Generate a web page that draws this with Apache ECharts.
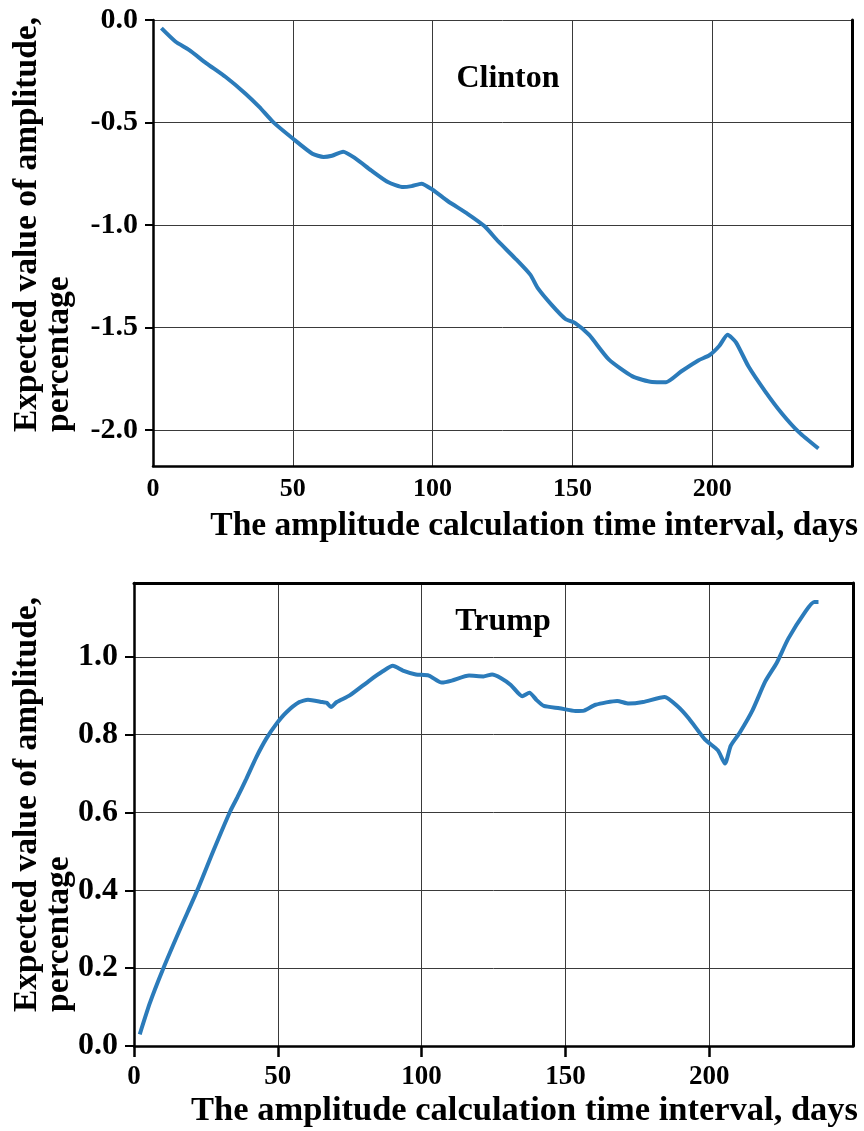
<!DOCTYPE html>
<html>
<head>
<meta charset="utf-8">
<script src="https://cdn.jsdelivr.net/npm/echarts@6/dist/echarts.min.js"></script>
<style>
html,body{margin:0;padding:0;background:#fff;}
#chart{width:864px;height:1131px;}
</style>
</head>
<body>
<div id="chart"></div>
<script>
// ---- data ----
const clintonDays = [3, 8, 13, 19, 26, 33, 38, 43, 50, 57, 61, 64, 68, 72.5, 78, 84, 89.5, 92.5, 96, 100, 105.5, 112.5, 118.5, 123.5, 129.5, 135, 137.5, 142.5, 147.5, 151, 156, 163, 171.5, 178.5, 183.5, 189, 195, 199, 202.5, 205.5, 208.5, 213, 219, 225, 231, 238];
const clintonValues = [-0.04, -0.105, -0.147, -0.21, -0.278, -0.358, -0.424, -0.498, -0.578, -0.652, -0.668, -0.662, -0.642, -0.676, -0.733, -0.79, -0.815, -0.81, -0.798, -0.828, -0.884, -0.945, -1.005, -1.08, -1.162, -1.243, -1.305, -1.388, -1.458, -1.478, -1.536, -1.655, -1.738, -1.765, -1.766, -1.713, -1.66, -1.635, -1.59, -1.535, -1.572, -1.69, -1.812, -1.92, -2.01, -2.09];

const trumpDays = [2, 5.5, 10, 16, 22, 27.5, 33.5, 36, 39, 42.5, 46, 49.5, 53, 57.5, 60.5, 65.5, 67, 68.5, 70.5, 75, 82, 86.5, 90, 93.5, 98, 102.5, 107, 110.5, 116.5, 121.5, 124.5, 127.5, 131, 135, 137.5, 140, 142.5, 148, 153.5, 156.5, 160.5, 168, 172, 177, 184.5, 189, 193, 198.5, 203, 205.5, 207.5, 210.5, 215, 219.5, 223.5, 227.5, 233.5, 236.5, 238];
const trumpValues = [0.03, 0.11, 0.196, 0.3, 0.4, 0.5, 0.604, 0.64, 0.686, 0.742, 0.79, 0.828, 0.858, 0.884, 0.89, 0.884, 0.882, 0.871, 0.884, 0.901, 0.94, 0.963, 0.977, 0.965, 0.955, 0.952, 0.934, 0.939, 0.952, 0.95, 0.955, 0.946, 0.928, 0.899, 0.908, 0.889, 0.874, 0.868, 0.861, 0.862, 0.877, 0.887, 0.88, 0.884, 0.897, 0.873, 0.841, 0.788, 0.76, 0.726, 0.772, 0.804, 0.862, 0.937, 0.985, 1.047, 1.117, 1.141, 1.141];

const xTickValues = [0, 50, 100, 150, 200];
const clintonYTicks = [-2.0, -1.5, -1.0, -0.5, 0.0];
const trumpYTicks = [0.0, 0.2, 0.4, 0.6, 0.8, 1.0];

const panelLabels = ['Clinton', 'Trump'];
const xAxisTitle = 'The amplitude calculation time interval, days';
const yAxisTitle = 'Expected value of amplitude,\npercentage';

// ---- chart ----
const FONT = 'Liberation Serif';
const lineColor = '#2b7bba';
const gridLine = { show: true, lineStyle: { color: '#3a3a3a', width: 1 } };
const blackAxis = { show: true, onZero: false, lineStyle: { color: '#000', width: 2.5 } };
const borderAxis = { show: true, onZero: false, lineStyle: { color: '#000', width: 3 } };

function toPairs(xs, ys) { return xs.map((x, i) => [x, ys[i]]); }

const chart = echarts.init(document.getElementById('chart'), null, { renderer: 'canvas' });

const option = {
  backgroundColor: '#fff',
  animation: false,
  grid: [
    { left: 153, top: 20, width: 699, height: 446 },
    { left: 134, top: 583, width: 719, height: 463 }
  ],
  xAxis: [
    {
      type: 'value', gridIndex: 0, min: 0, max: 250, interval: 50,
      axisLine: blackAxis,
      axisTick: { show: false },
      axisLabel: {
        customValues: xTickValues, margin: 10,
        fontFamily: FONT, fontWeight: 'bold', fontSize: 26, color: '#000'
      },
      splitLine: gridLine
    },
    {
      type: 'value', gridIndex: 1, min: 0, max: 250, interval: 50,
      axisLine: blackAxis,
      axisTick: { show: true, customValues: xTickValues, length: 11, lineStyle: { color: '#000', width: 2.5 } },
      axisLabel: {
        customValues: xTickValues, margin: 18,
        fontFamily: FONT, fontWeight: 'bold', fontSize: 27, color: '#000'
      },
      splitLine: gridLine
    },
    {
      type: 'value', gridIndex: 1, position: 'top', min: 0, max: 250,
      axisLine: borderAxis,
      axisTick: { show: false }, axisLabel: { show: false }, splitLine: { show: false }
    }
  ],
  yAxis: [
    {
      type: 'value', gridIndex: 0, min: -2.175, max: 0,
      axisLine: blackAxis,
      axisTick: { show: true, customValues: clintonYTicks, length: 8, lineStyle: { color: '#000', width: 2 } },
      axisLabel: {
        customValues: clintonYTicks, margin: 15,
        formatter: v => v.toFixed(1),
        fontFamily: FONT, fontWeight: 'bold', fontSize: 30, color: '#000'
      },
      splitLine: gridLine
    },
    {
      type: 'value', gridIndex: 0, position: 'right', min: -2.175, max: 0,
      axisLine: borderAxis,
      axisTick: { show: false }, axisLabel: { show: false }, splitLine: { show: false }
    },
    {
      type: 'value', gridIndex: 1, min: 0, max: 1.19,
      axisLine: blackAxis,
      axisTick: { show: true, customValues: trumpYTicks, length: 9, lineStyle: { color: '#000', width: 2 } },
      axisLabel: {
        customValues: trumpYTicks, margin: 16,
        formatter: v => v.toFixed(1),
        fontFamily: FONT, fontWeight: 'bold', fontSize: 32, color: '#000'
      },
      splitLine: gridLine
    },
    {
      type: 'value', gridIndex: 1, position: 'right', min: 0, max: 1.19,
      axisLine: borderAxis,
      axisTick: { show: false }, axisLabel: { show: false }, splitLine: { show: false }
    }
  ],
  series: [
    {
      name: panelLabels[0], type: 'line', xAxisIndex: 0, yAxisIndex: 0,
      data: toPairs(clintonDays, clintonValues),
      showSymbol: false, smooth: 0.2,
      lineStyle: { color: lineColor, width: 4 }
    },
    {
      name: panelLabels[1], type: 'line', xAxisIndex: 1, yAxisIndex: 2,
      data: toPairs(trumpDays, trumpValues),
      showSymbol: false, smooth: 0.2,
      lineStyle: { color: lineColor, width: 4 }
    }
  ],
  graphic: [
    { type: 'text', x: 508, y: 79, style: { text: panelLabels[0], textAlign: 'center', textVerticalAlign: 'middle', font: 'bold 32px "' + FONT + '"', fill: '#000' } },
    { type: 'text', x: 503, y: 622, style: { text: panelLabels[1], textAlign: 'center', textVerticalAlign: 'middle', font: 'bold 32px "' + FONT + '"', fill: '#000' } },
    { type: 'text', x: 858, y: 526, style: { text: xAxisTitle, textAlign: 'right', textVerticalAlign: 'middle', font: 'bold 33.5px "' + FONT + '"', fill: '#000' } },
    { type: 'text', x: 858, y: 1111, style: { text: xAxisTitle, textAlign: 'right', textVerticalAlign: 'middle', font: 'bold 34.5px "' + FONT + '"', fill: '#000' } },
    { type: 'text', x: 11, y: 432, rotation: Math.PI / 2, style: { text: yAxisTitle, textAlign: 'left', textVerticalAlign: 'top', lineHeight: 32, font: 'bold 33.5px "' + FONT + '"', fill: '#000' } },
    { type: 'text', x: 11, y: 1012, rotation: Math.PI / 2, style: { text: yAxisTitle, textAlign: 'left', textVerticalAlign: 'top', lineHeight: 32, font: 'bold 33.5px "' + FONT + '"', fill: '#000' } }
  ]
};

chart.setOption(option);
</script>
</body>
</html>
